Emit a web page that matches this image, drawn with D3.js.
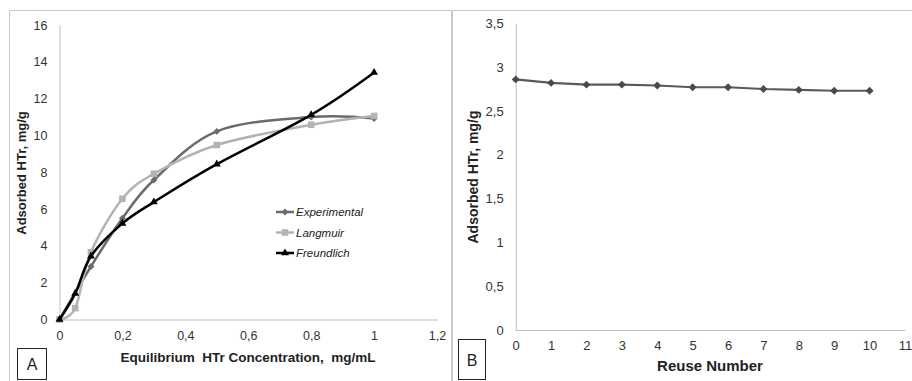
<!DOCTYPE html>
<html>
<head>
<meta charset="utf-8">
<script src="https://cdn.jsdelivr.net/npm/d3@7"></script>
<style>
  body { margin: 0; background: #fff; }
  text { font-family: "Liberation Sans", Arial, sans-serif; }
</style>
</head>
<body>
<div id="chart"></div>
<script>
// panel A: equilibrium isotherms
const concentration = [0, 0.05, 0.1, 0.2, 0.3, 0.5, 0.8, 1];
const experimental = [0, null, 2.88, 5.5, 7.58, 10.22, 11.0, 10.92];
const langmuir = [0, 0.62, 3.66, 6.56, 7.92, 9.48, 10.58, 11.06];
const freundlich = [0, 1.42, 3.44, 5.22, 6.38, 8.44, 11.12, 13.42];
const seriesNames = ['Experimental', 'Langmuir', 'Freundlich'];
const xTicksA = [0, 0.2, 0.4, 0.6, 0.8, 1, 1.2];
const yTicksA = [0, 2, 4, 6, 8, 10, 12, 14, 16];

// panel B: reuse
const reuseNumber = [0, 1, 2, 3, 4, 5, 6, 7, 8, 9, 10];
const reuseAdsorbed = [2.86, 2.82, 2.80, 2.80, 2.79, 2.77, 2.77, 2.75, 2.74, 2.73, 2.73];
const xTicksB = [0, 1, 2, 3, 4, 5, 6, 7, 8, 9, 10, 11];
const yTicksB = [0, 0.5, 1, 1.5, 2, 2.5, 3, 3.5];

const comma = d => String(d).replace('.', ',');

const svg = d3.select('#chart').append('svg')
    .attr('width', 912)
    .attr('height', 381);

// panel frames
svg.append('path')
    .attr('d', 'M9.5,381V10.5H451.5V381')
    .attr('fill', 'none').attr('stroke', '#c8c8c8').attr('stroke-width', 1);
svg.append('path')
    .attr('d', 'M452.5,381V10.5H912')
    .attr('fill', 'none').attr('stroke', '#c8c8c8').attr('stroke-width', 1);

// ---------- A ----------
const xA = d3.scaleLinear().domain([0, 1.2]).range([59.5, 437]);
const yA = d3.scaleLinear().domain([0, 16]).range([319.5, 25]);

const gA = svg.append('g');

gA.append('g')
    .attr('transform', 'translate(0,' + yA(0) + ')')
    .call(d3.axisBottom(xA).tickValues(xTicksA).tickSize(0).tickPadding(12).tickFormat(comma))
    .call(g => g.select('.domain').attr('stroke', '#bfbfbf'))
    .call(g => g.selectAll('text').attr('font-size', 12.5).attr('fill', '#333').attr('font-family', '"Liberation Sans", Arial'));

gA.append('g')
    .attr('transform', 'translate(' + xA(0) + ',0)')
    .call(d3.axisLeft(yA).tickValues(yTicksA).tickSize(0).tickPadding(12).tickFormat(comma))
    .call(g => g.select('.domain').attr('stroke', '#bfbfbf'))
    .call(g => g.selectAll('text').attr('font-size', 12.5).attr('fill', '#333').attr('font-family', '"Liberation Sans", Arial'));

gA.append('text')
    .attr('x', 248).attr('y', 362)
    .attr('text-anchor', 'middle')
    .attr('font-size', 13.5).attr('font-weight', 'bold').attr('fill', '#222')
    .style('white-space', 'pre')
    .text('Equilibrium  HTr Concentration,  mg/mL');

gA.append('text')
    .attr('transform', 'translate(26,173) rotate(-90)')
    .attr('text-anchor', 'middle')
    .attr('font-size', 13).attr('font-weight', 'bold').attr('fill', '#222')
    .text('Adsorbed HTr, mg/g');

const styles = {
  Experimental: { color: '#6b6b6b', symbol: d3.symbolDiamond2, size: 30, values: experimental },
  Langmuir: { color: '#b3b3b3', symbol: d3.symbolSquare2, size: 55, values: langmuir },
  Freundlich: { color: '#000000', symbol: d3.symbolTriangle2, size: 45, values: freundlich }
};

const lineA = d3.line()
    .defined(d => d[1] != null)
    .x(d => xA(d[0]))
    .y(d => yA(d[1]))
    .curve(d3.curveCardinal.tension(0));

seriesNames.forEach(name => {
  const s = styles[name];
  const pts = concentration.map((c, i) => [c, s.values[i]]).filter(d => d[1] != null);
  gA.append('path')
      .datum(pts)
      .attr('fill', 'none')
      .attr('stroke', s.color)
      .attr('stroke-width', 2.5)
      .attr('d', lineA);
  gA.append('g').selectAll('path')
      .data(pts)
    .enter().append('path')
      .attr('transform', d => 'translate(' + xA(d[0]) + ',' + yA(d[1]) + ')')
      .attr('d', d3.symbol(s.symbol, s.size))
      .attr('fill', s.color);
});

// legend
const legend = gA.append('g').attr('transform', 'translate(276,212)');
seriesNames.forEach((name, i) => {
  const s = styles[name];
  const row = legend.append('g').attr('transform', 'translate(0,' + i * 20.5 + ')');
  row.append('line')
      .attr('x1', 0).attr('x2', 18)
      .attr('stroke', s.color).attr('stroke-width', 2.5);
  row.append('path')
      .attr('transform', 'translate(9,0)')
      .attr('d', d3.symbol(s.symbol, s.size))
      .attr('fill', s.color);
  row.append('text')
      .attr('x', 20).attr('dy', '0.35em')
      .attr('font-size', 11.5).attr('font-style', 'italic').attr('fill', '#222')
      .text(name);
});

// label box A
svg.append('rect')
    .attr('x', 17.5).attr('y', 348.5).attr('width', 29).attr('height', 31)
    .attr('fill', '#fff').attr('stroke', '#222').attr('stroke-width', 1);
svg.append('text')
    .attr('x', 32).attr('y', 370)
    .attr('text-anchor', 'middle')
    .attr('font-size', 16).attr('fill', '#222')
    .text('A');

// ---------- B ----------
const xB = d3.scaleLinear().domain([0, 11]).range([515.7, 905]);
const yB = d3.scaleLinear().domain([0, 3.5]).range([330, 23.3]);

const gB = svg.append('g');

gB.append('g')
    .attr('transform', 'translate(0,' + yB(0) + ')')
    .call(d3.axisBottom(xB).tickValues(xTicksB).tickSize(0).tickPadding(11))
    .call(g => g.select('.domain').attr('stroke', '#bfbfbf'))
    .call(g => g.selectAll('text').attr('font-size', 13).attr('fill', '#333').attr('font-family', '"Liberation Sans", Arial'));

gB.append('g')
    .attr('transform', 'translate(' + xB(0) + ',0)')
    .call(d3.axisLeft(yB).tickValues(yTicksB).tickSize(0).tickPadding(12).tickFormat(comma))
    .call(g => g.select('.domain').attr('stroke', '#bfbfbf'))
    .call(g => g.selectAll('text').attr('font-size', 13).attr('fill', '#333').attr('font-family', '"Liberation Sans", Arial'));

gB.append('text')
    .attr('x', 710).attr('y', 371)
    .attr('text-anchor', 'middle')
    .attr('font-size', 15).attr('font-weight', 'bold').attr('fill', '#222')
    .text('Reuse Number');

gB.append('text')
    .attr('transform', 'translate(478,177) rotate(-90)')
    .attr('text-anchor', 'middle')
    .attr('font-size', 14).attr('font-weight', 'bold').attr('fill', '#222')
    .text('Adsorbed HTr, mg/g');

const reusePts = reuseNumber.map((n, i) => [n, reuseAdsorbed[i]]);

gB.append('path')
    .datum(reusePts)
    .attr('fill', 'none')
    .attr('stroke', '#5a5a5a')
    .attr('stroke-width', 2.2)
    .attr('d', d3.line().x(d => xB(d[0])).y(d => yB(d[1])));

gB.append('g').selectAll('path')
    .data(reusePts)
  .enter().append('path')
    .attr('transform', d => 'translate(' + xB(d[0]) + ',' + yB(d[1]) + ')')
    .attr('d', d3.symbol(d3.symbolDiamond2, 40))
    .attr('fill', '#4a4a4a');

// label box B
svg.append('rect')
    .attr('x', 458.5).attr('y', 339.5).attr('width', 27).attr('height', 40)
    .attr('fill', '#fff').attr('stroke', '#222').attr('stroke-width', 1);
svg.append('text')
    .attr('x', 472).attr('y', 366)
    .attr('text-anchor', 'middle')
    .attr('font-size', 16).attr('fill', '#222')
    .text('B');
</script>
</body>
</html>
